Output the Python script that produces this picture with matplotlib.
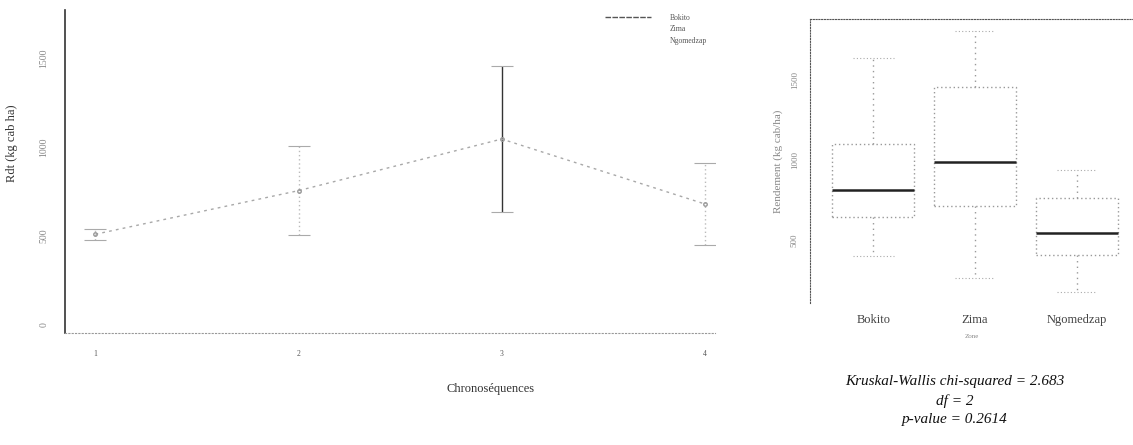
import numpy as np
import matplotlib.pyplot as plt
from matplotlib.lines import Line2D

# mean yield per chronosequence with error bars (kg cab / ha)
chrono = [1, 2, 3, 4]
rdt_mean = [510, 755, 1045, 680]
rdt_err = [30, 250, 410, 230]
zones = ['Bokito', 'Zima', 'Ngomedzap']

# yield distribution per zone (box plot summary)
box_q1 = [644, 712, 406]
box_med = [812, 988, 544]
box_q3 = [1100, 1456, 762]
box_lo = [400, 262, 175]
box_hi = [1637, 1806, 937]

kw_chi2 = 2.683
kw_df = 2
kw_p = 0.2614

plt.rcParams['font.family'] = ['Liberation Serif', 'DejaVu Serif']

fig = plt.figure(figsize=(11.33, 4.45), dpi=100)
W, H = 1133, 445


def axes_px(x0, y0, x1, y1):
    return fig.add_axes([x0 / W, 1 - y1 / H, (x1 - x0) / W, (y1 - y0) / H])


# ---- interaction plot ----
ax = axes_px(65, 10, 715, 333)
eb = ax.errorbar(chrono, rdt_mean, yerr=rdt_err, color='#a8a8a8',
                 ls=(0, (2, 3)), lw=1.0, ecolor='#aaaaaa', elinewidth=1.0,
                 capsize=8, capthick=0.8, marker='o', ms=2.5, mfc='none',
                 mec='#999999')
# the third bar prints darker than the others
eb[2][0].set_color(['#bbbbbb', '#bbbbbb', '#333333', '#bbbbbb'])
eb[2][0].set_linestyles([(0, (1, 2)), (0, (1, 2)), 'solid', (0, (1, 2))])
ax.set_xlim(0.85, 4.05)
ax.set_ylim(-45, 1770)
ax.set_xticks(chrono)
ax.set_xticklabels([str(c) for c in chrono], fontsize=5.5, color='#555555')
ax.set_yticks([0, 500, 1000, 1500])
ax.set_yticklabels(['0', '500', '1000', '1500'], fontsize=7, color='#888888',
                   rotation=90, va='center')
ax.tick_params(length=0, pad=12)
for s in ['top', 'right']:
    ax.spines[s].set_visible(False)
ax.spines['left'].set_color('#333333')
ax.spines['left'].set_linewidth(1.2)
ax.spines['bottom'].set_linestyle((0, (1, 2)))
ax.spines['bottom'].set_color('#999999')
ax.set_xlabel('Chronoséquences', fontsize=9, color='#333333')
ax.set_ylabel('Rdt (kg cab ha)', fontsize=9, color='#333333')
ax.xaxis.set_label_coords(0.654, -0.155)
ax.yaxis.set_label_coords(-0.072, 0.588)

handles = [Line2D([], [], color='#555555', ls=(0, (4, 1)), lw=1.0),
           Line2D([], [], color='none'),
           Line2D([], [], color='none')]
ax.legend(handles, zones, loc='upper left', bbox_to_anchor=(0.82, 1.01),
          frameon=False, fontsize=5.5, handlelength=6, labelspacing=0.5,
          handletextpad=2.5, labelcolor='#555555')

# ---- box plot by zone ----
bx = axes_px(810, 19, 1133, 303)
stats = []
for i, z in enumerate(zones):
    stats.append(dict(label=z, q1=box_q1[i], med=box_med[i], q3=box_q3[i],
                      whislo=box_lo[i], whishi=box_hi[i], fliers=[]))
parts = bx.bxp(stats, positions=[1, 2, 3], widths=0.8, showfliers=False,
               boxprops=dict(color='#999999', ls=(0, (1, 2)), lw=1.0),
               whiskerprops=dict(color='#999999', ls=(0, (1, 3)), lw=1.0),
               capprops=dict(color='#aaaaaa', ls=(0, (1, 2)), lw=0.8),
               medianprops=dict(color='#222222', lw=1.8))
bx.set_xlim(0.38, 3.55)
bx.set_ylim(106, 1881)
bx.set_yticks([500, 1000, 1500])
bx.set_yticklabels(['500', '1000', '1500'], fontsize=6.5, color='#888888',
                   rotation=90, va='center')
bx.set_xticklabels(zones, fontsize=9, color='#444444')
bx.tick_params(axis='y', length=0, pad=8)
bx.tick_params(axis='x', length=0, pad=8)
for s in ['right', 'bottom']:
    bx.spines[s].set_visible(False)
for s in ['left', 'top']:
    bx.spines[s].set_linestyle((0, (1, 1.5)))
    bx.spines[s].set_color('#555555')
bx.set_xlabel('Zone', fontsize=5, color='#888888', labelpad=6)
bx.set_ylabel('Rendement (kg cab/ha)', fontsize=8, color='#888888', labelpad=6)

fig.text(955 / W, 1 - 382 / H, f'Kruskal-Wallis chi-squared = {kw_chi2}',
         ha='center', va='center', fontsize=11, style='italic', color='#111111')
fig.text(955 / W, 1 - 401 / H, f'df = {kw_df}',
         ha='center', va='center', fontsize=11, style='italic', color='#111111')
fig.text(955 / W, 1 - 420 / H, f'p-value = {kw_p}',
         ha='center', va='center', fontsize=11, style='italic', color='#111111')

fig.savefig('out.png', dpi=100)
